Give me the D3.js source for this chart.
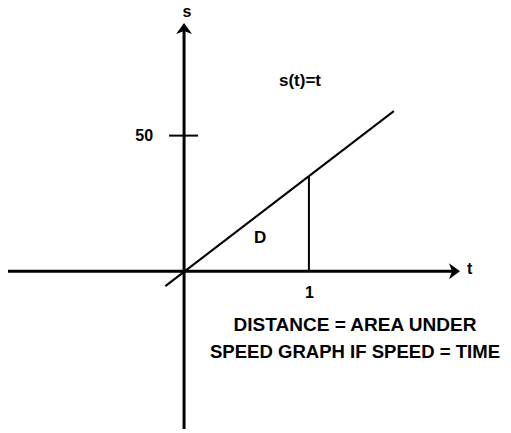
<!DOCTYPE html>
<html>
<head>
<meta charset="utf-8">
<script src="https://cdn.jsdelivr.net/npm/d3@7"></script>
<style>
  body { margin: 0; background: #fff; }
  text { font-family: "Liberation Sans", Arial, Helvetica, sans-serif; font-weight: bold; fill: #000; }
</style>
</head>
<body>
<div id="chart"></div>
<script>
// values
var tTicks = [1]
var sTicks = [50]
var tExtent = [-1.41, 2.21]
var sExtent = [-58, 91.2]
var lineT = [-0.15, 1.68]   // s(t)=t line drawn between these t
var lineS = [-5.5, 58.8]
var dropT = [1]             // vertical segment under the line
var captionLines = ["DISTANCE = AREA UNDER", "SPEED GRAPH IF SPEED = TIME"]
var captionWidths = [243, 290]

var width = 511, height = 433

var svg = d3.select("#chart").append("svg")
  .attr("width", width)
  .attr("height", height)

var xScale = d3.scaleLinear().domain(tExtent).range([8, 460])
var yScale = d3.scaleLinear().domain(sExtent).range([429, 23])

var x0 = xScale(0), y0 = yScale(0)

// main axes
svg.append("line")
  .attr("x1", xScale(tExtent[0])).attr("x2", xScale(tExtent[1]) - 6)
  .attr("y1", y0).attr("y2", y0)
  .attr("stroke", "#000").attr("stroke-width", 3)

svg.append("line")
  .attr("x1", x0).attr("x2", x0)
  .attr("y1", yScale(sExtent[0])).attr("y2", yScale(sExtent[1]) + 6)
  .attr("stroke", "#000").attr("stroke-width", 3)

// arrow heads
svg.append("path")
  .attr("d", "M0,0 L-11,-8 L-8,0 L-11,8 Z")
  .attr("transform", `translate(${xScale(tExtent[1])},${y0})`)
  .attr("fill", "#000")

svg.append("path")
  .attr("d", "M0,0 L-8,11 L0,8 L8,11 Z")
  .attr("transform", `translate(${x0},${yScale(sExtent[1])})`)
  .attr("fill", "#000")

// tick at s = 50, crossing both sides
svg.append("g")
  .attr("transform", `translate(${x0},0)`)
  .call(d3.axisLeft(yScale).tickValues(sTicks).tickSize(15).tickPadding(16))
  .call(g => g.select(".domain").remove())
  .call(g => g.selectAll(".tick line").attr("x1", 14).attr("stroke-width", 2))
  .call(g => g.selectAll(".tick text").attr("font-size", 16).attr("font-family", null))

// label under t = 1
svg.append("g")
  .attr("transform", `translate(0,${y0})`)
  .call(d3.axisBottom(xScale).tickValues(tTicks).tickFormat(d3.format("d")).tickSize(0).tickPadding(15))
  .call(g => g.select(".domain").remove())
  .call(g => g.selectAll(".tick text").attr("font-size", 16).attr("font-family", null))

// the line s(t)=t
var lineData = lineT.map((t, i) => ({t: t, s: lineS[i]}))
var slope = (lineS[1] - lineS[0]) / (lineT[1] - lineT[0])
var sAt = t => lineS[0] + slope * (t - lineT[0])

svg.append("path")
  .datum(lineData)
  .attr("d", d3.line().x(d => xScale(d.t)).y(d => yScale(d.s)))
  .attr("fill", "none")
  .attr("stroke", "#000")
  .attr("stroke-width", 2)

svg.selectAll(".drop")
  .data(dropT).enter()
  .append("line")
  .attr("class", "drop")
  .attr("x1", d => xScale(d)).attr("x2", d => xScale(d))
  .attr("y1", y0).attr("y2", d => yScale(sAt(d)))
  .attr("stroke", "#000")
  .attr("stroke-width", 2)

// axis names and labels
svg.append("text")
  .attr("x", x0 + 3).attr("y", 17)
  .attr("text-anchor", "middle")
  .attr("font-size", 16)
  .text("s")

svg.append("text")
  .attr("x", xScale(tExtent[1]) + 7).attr("y", y0 + 3)
  .attr("font-size", 16)
  .text("t")

svg.append("text")
  .attr("x", xScale(0.61)).attr("y", yScale(10.3))
  .attr("text-anchor", "middle")
  .attr("font-size", 17)
  .text("D")

svg.append("text")
  .attr("x", 279).attr("y", 86)
  .attr("font-size", 17)
  .text("s(t)=t")

svg.selectAll(".caption")
  .data(captionLines).enter()
  .append("text")
  .attr("class", "caption")
  .attr("x", 355)
  .attr("y", (d, i) => 331 + i * 27)
  .attr("text-anchor", "middle")
  .attr("font-size", 19)
  .attr("textLength", (d, i) => captionWidths[i])
  .attr("lengthAdjust", "spacingAndGlyphs")
  .text(d => d)
</script>
</body>
</html>
